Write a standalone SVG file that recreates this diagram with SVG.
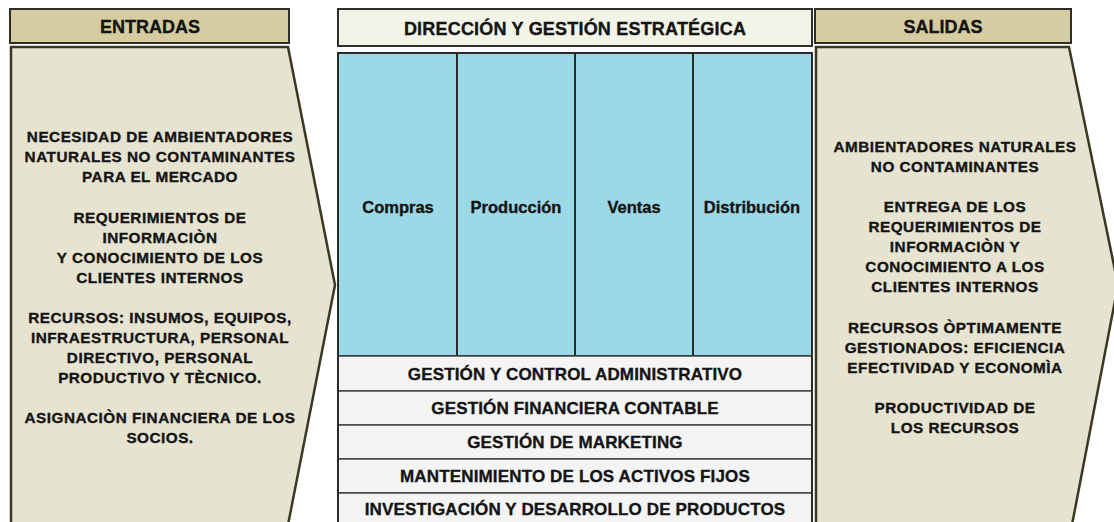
<svg xmlns="http://www.w3.org/2000/svg" width="1114" height="522" viewBox="0 0 1114 522">
<style>
.hdr{fill:#d5cda1;stroke:#2e2e28;stroke-width:2}
.body{fill:#e6e3d1;stroke:#3a3824;stroke-width:2.5}
.ctop{fill:#f2f4e7;stroke:#2e2e2e;stroke-width:2}
.blue{fill:#9cd9e6;stroke:#2a2a2a;stroke-width:2}
.row{fill:#f4f4f4;stroke:#444;stroke-width:1.5}
text{font-family:"Liberation Sans",Arial,sans-serif;font-weight:bold;fill:#141414;stroke:#141414;stroke-width:0.35px;text-anchor:middle}
.h{font-size:18px}
.t{font-size:15.3px;letter-spacing:0.5px}
.c{font-size:16.5px}
.r{font-size:17px;letter-spacing:0.15px}
</style>
<rect x="0" y="0" width="1114" height="522" fill="#ffffff"/>
<g id="entradas">
<rect class="hdr" x="10" y="9" width="279" height="34"/>
<text class="h" x="150" y="33">ENTRADAS</text>
<polygon class="body" points="11,47 288,47 335,285 287,530 11,530"/>
<text class="t" x="160" y="142">NECESIDAD DE AMBIENTADORES</text>
<text class="t" x="160" y="162">NATURALES NO CONTAMINANTES</text>
<text class="t" x="160" y="182">PARA EL MERCADO</text>
<text class="t" x="160" y="223">REQUERIMIENTOS DE</text>
<text class="t" x="160" y="243">INFORMACIÒN</text>
<text class="t" x="160" y="263">Y CONOCIMIENTO DE LOS</text>
<text class="t" x="160" y="283">CLIENTES INTERNOS</text>
<text class="t" x="160" y="323">RECURSOS: INSUMOS, EQUIPOS,</text>
<text class="t" x="160" y="343">INFRAESTRUCTURA, PERSONAL</text>
<text class="t" x="160" y="363">DIRECTIVO, PERSONAL</text>
<text class="t" x="160" y="383">PRODUCTIVO Y TÈCNICO.</text>
<text class="t" x="160" y="423">ASIGNACIÒN FINANCIERA DE LOS</text>
<text class="t" x="160" y="443">SOCIOS.</text>
</g>
<g id="direccion">
<rect class="ctop" x="338" y="9" width="474" height="37"/>
<text class="h" x="575" y="35" style="letter-spacing:0.2px">DIRECCIÓN Y GESTIÓN ESTRATÉGICA</text>
</g>
<g id="procesos">
<rect class="blue" x="338" y="53" width="119" height="303"/>
<rect class="blue" x="457" y="53" width="118" height="303"/>
<rect class="blue" x="575" y="53" width="118" height="303"/>
<rect class="blue" x="693" y="53" width="119" height="303"/>
<text class="c" x="398" y="213">Compras</text>
<text class="c" x="516" y="213">Producción</text>
<text class="c" x="634" y="213">Ventas</text>
<text class="c" x="752" y="213">Distribución</text>
</g>
<g id="apoyo">
<rect class="row" x="338" y="356" width="474" height="35"/>
<rect class="row" x="338" y="391" width="474" height="34"/>
<rect class="row" x="338" y="425" width="474" height="34"/>
<rect class="row" x="338" y="459" width="474" height="34"/>
<rect class="row" x="338" y="493" width="474" height="40"/>
<line x1="338" y1="356" x2="338" y2="522" stroke="#2a2a2a" stroke-width="2"/>
<line x1="812" y1="356" x2="812" y2="522" stroke="#2a2a2a" stroke-width="2"/>
<text class="r" x="575" y="380">GESTIÓN Y CONTROL ADMINISTRATIVO</text>
<text class="r" x="575" y="414">GESTIÓN FINANCIERA CONTABLE</text>
<text class="r" x="575" y="448">GESTIÓN DE MARKETING</text>
<text class="r" x="575" y="482">MANTENIMIENTO DE LOS ACTIVOS FIJOS</text>
<text class="r" x="575" y="515">INVESTIGACIÓN Y DESARROLLO DE PRODUCTOS</text>
</g>
<g id="salidas">
<rect class="hdr" x="815" y="9" width="256" height="34"/>
<text class="h" x="943" y="33">SALIDAS</text>
<polygon class="body" points="816,47 1069,47 1118,285 1071,530 816,530"/>
<text class="t" x="955" y="152">AMBIENTADORES NATURALES</text>
<text class="t" x="955" y="172">NO CONTAMINANTES</text>
<text class="t" x="955" y="212">ENTREGA DE LOS</text>
<text class="t" x="955" y="232">REQUERIMIENTOS DE</text>
<text class="t" x="955" y="252">INFORMACIÒN Y</text>
<text class="t" x="955" y="272">CONOCIMIENTO A LOS</text>
<text class="t" x="955" y="292">CLIENTES INTERNOS</text>
<text class="t" x="955" y="333">RECURSOS ÒPTIMAMENTE</text>
<text class="t" x="955" y="353">GESTIONADOS: EFICIENCIA</text>
<text class="t" x="955" y="373">EFECTIVIDAD Y ECONOMÌA</text>
<text class="t" x="955" y="413">PRODUCTIVIDAD DE</text>
<text class="t" x="955" y="433">LOS RECURSOS</text>
</g>
<g id="connectors"></g>
</svg>
